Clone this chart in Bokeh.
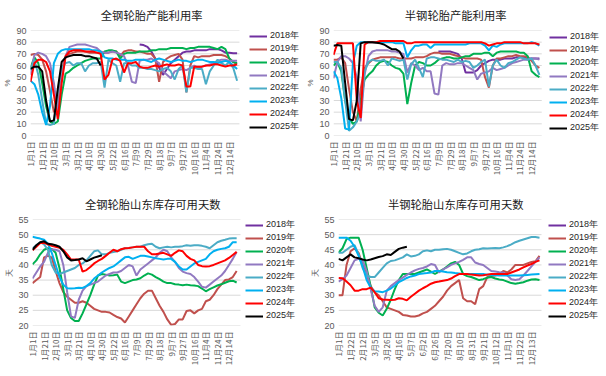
import math
from bokeh.plotting import figure
from bokeh.models import Range1d, FixedTicker, Legend, LegendItem
from bokeh.layouts import column, row
from bokeh.embed import file_html
from bokeh.resources import INLINE

N = None
years = ["2018年", "2019年", "2020年", "2021年", "2022年", "2023年", "2024年", "2025年"]
colors = ["#7030A0", "#C0504D", "#00B050", "#9179C1", "#4BACC6", "#00B0F0", "#FF0000", "#000000"]

ticks_a = ["1月1日", "1月21日", "2月10日", "3月1日", "3月21日", "4月10日", "4月30日", "5月22日",
           "6月16日", "7月9日", "7月29日", "8月18日", "9月7日", "9月27日", "10月16日", "11月4日",
           "11月24日", "12月14日"]
ticks_b = ["1月1日", "1月22日", "2月12日", "3月5日", "3月26日", "4月16日", "5月7日", "6月2日",
           "6月26日", "7月20日", "8月10日", "8月31日", "9月21日", "10月12日", "11月1日", "11月22日",
           "12月13日"]

# ---- 全钢轮胎产能利用率 (%) ----
tl_2018 = [N] * 28 + [78, 77.5, 76, 72, 66, 58, 52, 57, 62, 65,
                      68, 71, 72, 72, 73, 73, 73, 73, 74, 74,
                      74, 73, 71, 71, 70.5, 70.5]
tl_2019 = [69, 70, 69, 65, 55, 38, 20, 25, 55, 67,
           70, 71, 72, 72, 72, 71, 71, 71, 71, 71,
           71, 72, 72, 68, 72, 73, 73, 72, 72, 71,
           70, 70, 66, 46, 63, 66, 68, 69, 70, 65,
           37, 60, 68, 67, 68, 68, 68, 69, 69, 69,
           68, 66, 63, 61]
tl_2020 = [58, 67, 62, 45, 25, 12, 10, 12, 35, 53,
           55, 58, 60, 62, 64, 65, 66, 66, 66, 72,
           73, 73, 72, 66, 70, 71, 71, 71, 72, 72,
           72, 73, 73, 74, 74, 74, 75, 75, 75, 75,
           74, 75, 75, 76, 76, 76, 76, 75, 74, 76,
           74, 66, 63, 62]
tl_2021 = [52, 69, 71, 70, 68, 62, 45, 20, 50, 68,
           76, 77, 78, 78, 78, 77, 76, 75, 72, 71,
           71, 72, 71, 70, 68, 60, 46, 45, 64, 65,
           65, 66, 64, 62, 55, 52, 49, 55, 56, 57,
           56, 58, 60, 58, 59, 60, 61, 62, 64, 65,
           65, 64, 64, 64]
tl_2022 = [56, 65, 52, 30, 10, 9, 10, 38, 58, 62,
           63, 60, 62, 62, 55, 60, 62, 62, 63, 41,
           65, 62, 60, 46, 62, 62, 60, 60, 58, 58,
           57, 57, 56, 55, 57, 58, 55, 48, 57, 60,
           37, 58, 58, 57, 57, 44, 55, 60, 65, 62,
           60, 63, 58, 47]
tl_2023 = [47, 44, 35, 20, 9, 25, 62, 70, 73, 74,
           74, 74, 74, 74, 74, 74, 73, 73, 72, 67,
           66, 66, 65, 65, 65, 64, 64, 65, 65, 65,
           64, 63, 65, 66, 65, 64, 63, 64, 65, 64,
           64, 63, 64, 65, 65, 64, 63, 63, 62, 63,
           64, 63, 60, 57]
tl_2024 = [46, 62, 65, 65, 63, 55, 35, 14, 45, 68,
           72, 73, 73, 73, 72, 72, 72, 71, 70, 48,
           52, 65, 66, 64, 54, 62, 62, 63, 59, 58,
           58, 59, 60, 59, 60, 61, 60, 60, 61, 60,
           42, 42, 59, 59, 59, 60, 60, 61, 61, 60,
           59, 60, 60, 61]
tl_2025 = [57, 59, 59, 55, 30, 12, 13, 40, 63, 67, 68, 69, 69, 69, 68, 68, 67, 66, 60]

# ---- 半钢轮胎产能利用率 (%) ----
tr_2018 = [N] * 27 + [72, 72, 72, 72, 71, 70, 66, 54, 54, 54,
                      56, 60, 62, 64, 65, 65, 65, 66, 66, 66,
                      67, 67, 67, 66, 66, 66, 66]
tr_2019 = [65, 65, 67, 62, 40, 20, 12, 40, 58, 62,
           65, 66, 67, 67, 67, 67, 67, 66, 66, 66,
           66, 67, 67, 67, 68, 70, 71, 71, 70, 70,
           70, 69, 68, 67, 66, 66, 66, 66, 65, 50,
           41, 60, 66, 66, 67, 68, 68, 69, 68, 68,
           67, 64, 60, 58]
tr_2020 = [60, 63, 55, 30, 15, 10, 12, 30, 48, 52,
           55, 60, 63, 64, 63, 60, 58, 57, 53, 27,
           45, 60, 63, 62, 60, 60, 62, 65, 66, 67,
           67, 66, 66, 67, 68, 68, 70, 70, 70, 71,
           71, 68, 71, 72, 72, 72, 72, 72, 71, 71,
           68, 55, 52, 50]
tr_2021 = [49, 63, 68, 68, 66, 62, 50, 12, 52, 68,
           72, 73, 73, 73, 73, 72, 72, 71, 70, 54,
           62, 60, 56, 58, 55, 55, 36, 35, 60, 62,
           61, 61, 62, 62, 60, 58, 56, 48, 53, 54,
           55, 58, 56, 57, 58, 60, 62, 63, 64, 65,
           65, 66, 66, 65]
tr_2022 = [63, 63, 58, 30, 4, 7, 12, 20, 55, 63,
           65, 64, 64, 65, 60, 66, 65, 64, 65, 48,
           61, 65, 58, 50, 66, 67, 67, 66, 65, 65,
           64, 63, 65, 63, 64, 63, 58, 60, 63, 65,
           42, 60, 65, 60, 58, 62, 63, 65, 67, 66,
           65, 66, 60, 52]
tr_2023 = [55, 49, 32, 6, 5, 62, 77, 80, 80, 80,
           80, 80, 80, 80, 80, 80, 79, 79, 79, 67,
           73, 77, 77, 78, 78, 75, 78, 78, 78, 78,
           78, 78, 78, 78, 78, 79, 79, 79, 79, 77,
           73, 77, 76, 78, 79, 79, 79, 79, 79, 79,
           79, 80, 79, 77]
tr_2024 = [69, 79, 79, 79, 79, 79, 30, 15, 78, 80,
           80, 80, 81, 81, 81, 81, 81, 81, 81, 79,
           79, 80, 80, 80, 80, 80, 80, 80, 80, 80,
           80, 80, 80, 80, 80, 80, 80, 80, 80, 79,
           77, 78, 79, 79, 80, 80, 80, 80, 80, 79,
           79, 79, 79, 78]
tr_2025 = [77, 77.5, 77, 45, 14, 13, 30, 79, 80, 80, 80, 79.5, 79, 78, 76, 74, 74, 72, 66]

# ---- 全钢轮胎山东库存可用天数 (天) ----
bl_2018 = [N]
bl_2019 = [34, 35, 36, 42.5, 43, 42.5, 38, 34, 31, 29.5,
           28.5, 27.5, 27.5, 28, 27.5, 26.5, 25.5, 25, 24.5, 24.5,
           24.3, 23.5, 22.8, 22.3, 21, 23, 25, 27, 29, 30.5,
           31.5, 31.5, 29, 26.5, 24.5, 22, 20.2, 20.5, 22, 22,
           24.8, 25, 24, 25, 25.5, 28, 28.5, 30, 32, 33.5,
           35, 35.2, 36, 38]
bl_2020 = [40.2, 41.5, 43.5, 45, 45.5, 45.3, 44, 39, 32, 25,
           22.5, 21.5, 21.5, 24, 27, 30, 33.5, 36.5, 37, 36.8,
           36.5, 36.6, 36.8, 34.5, 34, 34.5, 35, 35.2, 35.6, 36.5,
           37.2, 36.8, 36, 35.3, 34.5, 34, 34, 33.6, 33.5, 33.3,
           33.5, 33.3, 33.2, 33, 32.2, 31.3, 32, 32.6, 33.2, 33.6,
           34.1, 34.6, 34.8, 34.2]
bl_2021 = [35.5, 37.5, 39.5, 41, 44, 45.2, 45, 44.5, 40, 31,
           23, 22.5, 28.5, 31.5, 33, 33.5, 34, 34.5, 35.5, 36.5,
           37, 37.5, 37.5, 38, 39, 40, 39.5, 36.5, 38.5, 39.5,
           40.5, 41.5, 42.5, 44, 45, 44.5, 42.5, 41, 39, 37.8,
           37.3, 37, 36, 34.5, 32.8, 32.5, 33.5, 34.5, 35.5, 36.5,
           38, 40, 42, 44.3]
bl_2022 = [45.5, 46.5, 47.5, 46.8, 45, 40, 37.5, 37, 37.5, 38,
           38.5, 39, 40, 40.5, 41.5, 43, 44.5, 44.8, 43.5, 43.5,
           44, 44.3, 44.5, 45, 45.5, 45.6, 45.8, 46, 46, 46.5,
           46.8, 47, 46, 45.5, 45.8, 46, 45.8, 46, 46, 46.2,
           46.5, 46.3, 46.5, 46.5, 46.3, 46, 45.5, 46.5, 47.5, 48,
           48.3, 48.7, 48.8, 48.8]
bl_2023 = [49.3, 49, 48.7, 48.3, 47, 44, 40, 36, 33.5, 32.3,
           32.2, 32.3, 32.5, 32.4, 33, 34, 35.5, 36.5, 37.5, 38.3,
           39, 39.5, 40.5, 41.5, 42.5, 42.7, 42, 42.5, 43, 43,
           42.8, 42.5, 42.2, 42, 41.8, 42, 42, 41, 39.5, 38.5,
           38.5, 39.5, 40.5, 41, 41.5, 42, 43.5, 44.5, 45, 45.3,
           45.5, 46, 47.5, 47.5]
bl_2024 = [44.8, 46, 47.2, 47.3, 46.8, 46.3, 46, 45.7, 45, 43.5,
           41.8, 41.8, 41.8, 37.8, 38.3, 39.3, 40.5, 41.3, 42, 43,
           44, 45, 44.5, 45.2, 45.5, 45.6, 45.8, 46, 46, 46,
           44.5, 43.5, 43.5, 43.8, 44, 43.5, 43, 44, 44.8, 44.5,
           43, 42, 41.5, 40, 39.6, 39.5, 39.6, 40, 40.5, 41,
           41.5, 42.3, 43.3, 44.3]
bl_2025 = [45, 46.5, 47.5, 47.8, 47, 46.8, 46.5, 46, 44.5, 42.5,
           41.5, 41.6, 41.8, 42.2, 41.2, 41.8, 42.4, 42.8, 43.2]

# ---- 半钢轮胎山东库存可用天数 (天) ----
br_2018 = [N]
br_2019 = [30, 30, 40, 44.5, 45.5, 44, 40, 37, 33, 31,
           30, 28, 26, 25.5, 25, 24.5, 23.5, 23.3, 23, 23,
           23.3, 24, 24.5, 25.5, 26.5, 28, 29.5, 31.5, 33, 34,
           35, 29, 28, 28, 27, 32, 33, 36, 36.3, 36.5,
           37, 38, 37.5, 38.5, 40, 40, 40, 40.5, 41, 41.2,
           43]
br_2020 = [44, 45.5, 48.5, 49, 49, 49, 45, 39, 33, 26,
           24.2, 23.3, 25.5, 28.5, 32, 35, 37, 37, 37, 37,
           37.5, 38, 38.5, 37.8, 37, 37.8, 38.5, 39.5, 40.5, 41,
           40, 37, 36.3, 36, 35.5, 35, 35.3, 35.8, 36, 35.5,
           35.2, 35, 34.5, 34, 33.8, 34, 34.3, 34.8, 35.2, 35.3,
           35]
br_2021 = [34.5, 35.3, 36.5, 39, 41.5, 42, 41.5, 38, 32, 26.5,
           24.5, 26, 31.5, 33, 34, 35, 35.8, 36.7, 37.5, 38.2,
           38.7, 39, 39.5, 40.3, 40, 37.5, 38.5, 39.2, 40, 40.5,
           41, 41.7, 42.5, 42.5, 40.8, 40.3, 40, 39, 38, 37.8,
           37.6, 37.5, 36.5, 35.3, 35, 35.3, 36.5, 38, 39.5, 41,
           42.5]
br_2022 = [44, 44, 45, 46, 46.5, 43.5, 39, 36.5, 36, 36,
           37.5, 39, 40.5, 41.3, 41.5, 42, 42.5, 43.5, 42.8, 43,
           43.5, 44.5, 44.8, 44.5, 45, 45, 45.2, 45.3, 45, 44.5,
           44, 43.5, 43.8, 44.5, 45, 45.2, 45.5, 45.4, 45.5, 45.6,
           45.5, 45.8, 46.2, 46.8, 47.5, 48, 48.4, 48.8, 49.2, 49.2,
           49]
br_2023 = [49, 49, 49, 48, 46, 43, 39.5, 35, 32.5, 31.3,
           31.2, 31, 31.5, 32.2, 33.2, 34.3, 35, 35.7, 36.2, 36.5,
           37, 37.2, 37.3, 37.5, 38, 38, 37.8, 37.6, 37.5, 37.3,
           37.2, 37, 37, 37, 37, 37, 37, 36.8, 36.7, 36.6,
           36.5, 36.5, 36.5, 36.5, 36.5, 36.5, 36.6, 36.7, 36.8, 36.9,
           37]
br_2024 = [35.7, 35.6, 34.5, 33.3, 31.5, 31.5, 32, 32, 32.5, 31,
           29, 28.6, 28.5, 28.4, 28.5, 29, 28.8, 28.3, 29.5, 30.5,
           31.5, 32.3, 33, 33.8, 34.3, 34.5, 34.8, 35, 35.5, 36.3,
           37, 37, 37, 36.8, 36.7, 36.5, 36.6, 36.8, 37, 37,
           37, 37, 37, 37.5, 38, 38.5, 39.2, 39.8, 40.3, 41,
           41.5]
br_2025 = [42, 41.5, 42.5, 43.5, 42.5, 42.2, 41.8, 41.5, 41.8, 42.2,
           42.6, 42.9, 43.5, 43.3, 44.3, 45.3, 45.7, 46]

CJK = "Noto Sans CJK SC"
LAT = "Liberation Sans"
W, H, RB = 303, 188, 0


def make_panel(title, series, ylo, yhi, ystep, ylab, ticklabels, xmax,
               fl, fr, ft, fb, tright):
    # the frame spans fl .. W-RB; the data occupy fl .. fr, legend sits to the right
    x_end = xmax * (W - RB - fl) / (fr - fl)
    p = figure(width=W, height=H, output_backend="svg", toolbar_location=None,
               x_range=Range1d(0, x_end), y_range=Range1d(ylo, yhi),
               min_border_left=fl, min_border_right=RB,
               min_border_top=ft, min_border_bottom=H - fb)
    p.title.text = title
    p.title.align = "right"
    p.title.offset = (W - RB) - tright
    p.title.vertical_align = "top"
    p.title.standoff = 12
    p.title.text_font = CJK
    p.title.text_font_size = "11.3px"
    p.title.text_font_style = "normal"
    p.title.text_color = "#1a1a1a"

    p.outline_line_color = None
    p.background_fill_color = "white"
    p.border_fill_color = "white"
    p.xgrid.visible = False
    p.ygrid.visible = False

    yticks = list(range(ylo, yhi + 1, ystep))
    p.segment(x0=[0] * len(yticks), x1=[xmax] * len(yticks), y0=yticks, y1=yticks,
              line_color="#d9d9d9", line_width=1)

    p.yaxis.ticker = FixedTicker(ticks=yticks)
    p.xaxis.ticker = FixedTicker(ticks=[3 * i for i in range(len(ticklabels))])
    p.xaxis.major_label_overrides = {3 * i: t for i, t in enumerate(ticklabels)}
    p.xaxis.major_label_orientation = math.pi / 2
    for ax in (p.xaxis, p.yaxis):
        ax.axis_line_color = None
        ax.major_tick_line_color = None
        ax.minor_tick_line_color = None
        ax.major_tick_out = 0
        ax.major_tick_in = 0
        ax.major_label_text_color = "#595959"
    p.xaxis.major_label_text_font = CJK
    p.yaxis.major_label_text_font = LAT
    p.xaxis.major_label_text_font_size = "8px"
    p.xaxis.major_label_standoff = 6
    p.yaxis.major_label_text_font_size = "9px"
    p.yaxis.major_label_standoff = 4
    p.yaxis.axis_label = ylab
    p.yaxis.axis_label_text_font = LAT
    p.yaxis.axis_label_text_font_size = "8px"
    p.yaxis.axis_label_text_font_style = "normal"
    p.yaxis.axis_label_text_color = "#595959"
    p.yaxis.axis_label_standoff = 1

    items = []
    for name, col, vals in zip(years, colors, series):
        xs = list(range(len(vals)))
        ys = [float("nan") if v is None else v for v in vals]
        r = p.line(xs, ys, line_color=col, line_width=2)
        items.append(LegendItem(label=name, renderers=[r]))
    leg = Legend(items=items, location=(245 - fl, fb - 134), margin=0, padding=0,
                 spacing=0, glyph_width=18, glyph_height=12, label_height=12,
                 label_standoff=3, label_text_font=LAT, label_text_font_size="9px",
                 label_text_color="#262626", border_line_color=None,
                 background_fill_alpha=0)
    p.add_layout(leg, "center")
    return p


p1 = make_panel("全钢轮胎产能利用率",
                [tl_2018, tl_2019, tl_2020, tl_2021, tl_2022, tl_2023, tl_2024, tl_2025],
                0, 90, 10, "%", ticks_a, 53.6, 26, 238, 29, 136, 202)
p2 = make_panel("半钢轮胎产能利用率",
                [tr_2018, tr_2019, tr_2020, tr_2021, tr_2022, tr_2023, tr_2024, tr_2025],
                0, 90, 10, "%", ticks_a, 53.6, 29, 238, 29, 135, 203)
p3 = make_panel("全钢轮胎山东库存可用天数",
                [bl_2018, bl_2019, bl_2020, bl_2021, bl_2022, bl_2023, bl_2024, bl_2025],
                20, 55, 5, "天", ticks_a, 54, 32, 240, 31, 137, 220)
p4 = make_panel("半钢轮胎山东库存可用天数",
                [br_2018, br_2019, br_2020, br_2021, br_2022, br_2023, br_2024, br_2025],
                20, 55, 5, "天", ticks_b, 50.5, 35, 238, 31, 137, 220)

layout = column(row(p1, p2), row(p3, p4))
open("out.html", "w").write(file_html(layout, INLINE))
